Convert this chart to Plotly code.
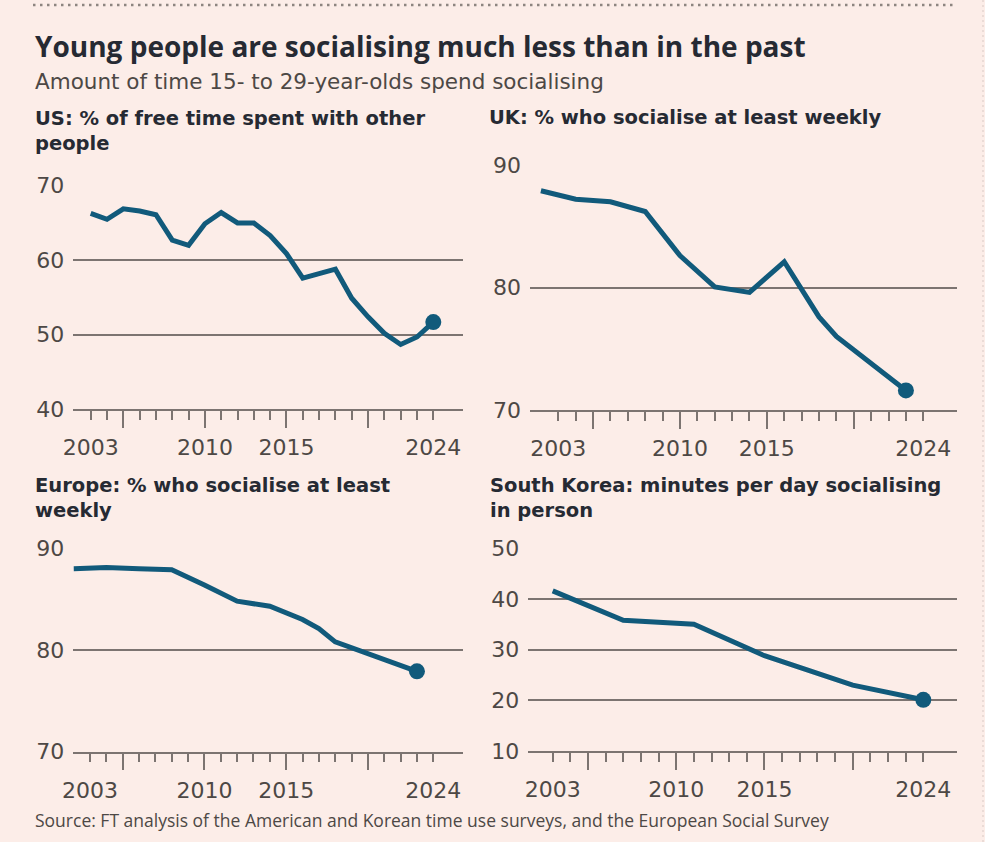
import plotly.graph_objects as go

# data
us_years = list(range(2003, 2025))
us_vals = [66.3, 65.5, 66.9, 66.6, 66.1, 62.7, 62.0, 64.9, 66.4, 65.0, 65.0,
           63.3, 60.9, 57.6, 58.2, 58.8, 54.9, 52.4, 50.2, 48.7, 49.7, 51.7]

uk_years = [2002, 2004, 2006, 2008, 2010, 2012, 2014, 2016, 2018, 2019, 2023]
uk_vals = [87.9, 87.2, 87.0, 86.2, 82.6, 80.05, 79.6, 82.1, 77.6, 76.0, 71.6]

eu_years = [2002, 2004, 2006, 2008, 2010, 2012, 2014, 2016, 2017, 2018, 2023]
eu_vals = [88.0, 88.1, 88.0, 87.9, 86.4, 84.8, 84.3, 83.0, 82.1, 80.8, 77.9]

kr_years = [2003, 2007, 2011, 2015, 2020, 2024]
kr_vals = [41.6, 35.8, 35.0, 28.8, 23.0, 20.1]

label_years = [2003, 2010, 2015, 2024]
long_tick_years = [2005, 2010, 2015, 2020]
minor_tick_years = list(range(2003, 2025))

title = "Young people are socialising much less than in the past"
subtitle = "Amount of time 15- to 29-year-olds spend socialising"
source = ("Source: FT analysis of the American and Korean time use surveys, "
          "and the European Social Survey")

W, H = 985, 842
BG = "#fcede8"
LINE = "#115a7b"
GRID = "#7c7471"
TXT = "#262a33"
TICK = "#4d4845"
HEAD = "Open Sans, sans-serif"
BODY = "DejaVu Sans, sans-serif"

# panel: title, years, values, y ticks, pixel box (left, right, x of 2003, x of 2024,
# y px of bottom grid, y px of top grid), title position
panels = [
    ("US: % of free time spent with other<br>people", us_years, us_vals, [40, 50, 60, 70],
     (73.3, 463.3, 90.7, 433.3, 409.3, 185.7), (33, 130.6)),
    ("UK: % who socialise at least weekly", uk_years, uk_vals, [70, 80, 90],
     (530, 956.7, 558.3, 923.3, 410, 165), (487, 117.3)),
    ("Europe: % who socialise at least<br>weekly", eu_years, eu_vals, [70, 80, 90],
     (73.3, 463.3, 90, 433.3, 751.7, 548.3), (33, 497.8)),
    ("South Korea: minutes per day socialising<br>in person", kr_years, kr_vals, [10, 20, 30, 40, 50],
     (528.3, 956.7, 552.7, 923.3, 751, 548.3), (488, 497.8)),
]

fig = go.Figure()
layout = {}
annotations = []

for i, (ptitle, xs, ys, yticks, box, tpos) in enumerate(panels):
    n = i + 1
    left, right, p03, p24, pbot, ptop = box
    per_year = (p24 - p03) / 21
    xr = [2003 - (p03 - left) / per_year, 2024 + (right - p24) / per_year]
    ymin, ymax = yticks[0], yticks[-1]
    per_unit = (pbot - ptop) / (ymax - ymin)
    pad = 1.0 / per_unit
    yr = [ymin, ymax + pad]
    top_px = ptop - pad * per_unit

    xa = "x" if n == 1 else f"x{n}"
    ya = "y" if n == 1 else f"y{n}"
    xkey = "xaxis" if n == 1 else f"xaxis{n}"
    ykey = "yaxis" if n == 1 else f"yaxis{n}"
    okey = f"xaxis{n + 4}"

    fig.add_trace(go.Scatter(x=xs, y=ys, mode="lines", xaxis=xa, yaxis=ya,
                             line=dict(color=LINE, width=5), cliponaxis=False,
                             hoverinfo="skip", showlegend=False))
    fig.add_trace(go.Scatter(x=[xs[-1]], y=[ys[-1]], mode="markers", xaxis=xa, yaxis=ya,
                             marker=dict(color=LINE, size=16), cliponaxis=False,
                             hoverinfo="skip", showlegend=False))
    # empty trace so the label axis is drawn
    fig.add_trace(go.Scatter(x=[], y=[], xaxis=f"x{n + 4}", yaxis=ya,
                             hoverinfo="skip", showlegend=False))

    layout[xkey] = dict(
        domain=[left / W, right / W], range=xr, anchor=ya, automargin=False,
        showgrid=False, zeroline=False, showline=True, linecolor=GRID, linewidth=1.5,
        tickmode="array", tickvals=long_tick_years, ticks="outside", ticklen=17,
        tickwidth=1.5, tickcolor=GRID, showticklabels=False,
        minor=dict(tickmode="array", tickvals=minor_tick_years, ticks="outside",
                   ticklen=9, tickwidth=1.5, tickcolor=GRID),
        fixedrange=True,
    )
    layout[okey] = dict(
        overlaying=xa, anchor=ya, range=xr, side="bottom", automargin=False,
        showgrid=False, zeroline=False, showline=False,
        tickmode="array", tickvals=label_years, ticks="",
        ticklabelstandoff=23, tickfont=dict(family=BODY, size=22, color=TICK),
        fixedrange=True,
    )
    layout[ykey] = dict(
        domain=[1 - pbot / H, 1 - top_px / H], range=yr, anchor=xa, automargin=False,
        showgrid=True, gridcolor=GRID, gridwidth=1.5, zeroline=False, showline=False,
        tickmode="array", tickvals=yticks, ticks="", ticklabelstandoff=8,
        tickfont=dict(family=BODY, size=22, color=TICK), fixedrange=True,
    )
    annotations.append(dict(
        text=f"<b>{ptitle}</b>", xref="paper", yref="paper",
        x=tpos[0] / W, y=1 - tpos[1] / H, xanchor="left", yanchor="middle",
        align="left", showarrow=False, font=dict(family=BODY, size=19.5, color=TXT)))

annotations += [
    dict(text=f"<b>{title}</b>", xref="paper", yref="paper", x=33 / W, y=1 - 45.5 / H,
         xanchor="left", yanchor="middle", showarrow=False,
         font=dict(family=HEAD, size=28, color=TXT)),
    dict(text=subtitle, xref="paper", yref="paper", x=33 / W, y=1 - 82 / H,
         xanchor="left", yanchor="middle", showarrow=False,
         font=dict(family=BODY, size=21.5, color="#4d4845")),
    dict(text=source, xref="paper", yref="paper", x=33 / W, y=1 - 820 / H,
         xanchor="left", yanchor="middle", showarrow=False,
         font=dict(family=HEAD, size=17.5, color="#4d4845")),
]

shapes = [
    dict(type="line", xref="paper", yref="paper", x0=33 / W, x1=955 / W,
         y0=1 - 5 / H, y1=1 - 5 / H, line=dict(color="#8d8580", width=2.5, dash="2.5px,4.5px")),
    dict(type="line", xref="paper", yref="paper", x0=983 / W, x1=983 / W,
         y0=0, y1=1, line=dict(color="#d9c9c4", width=1, dash="2px,3px")),
]

fig.update_layout(
    width=W, height=H, margin=dict(l=0, r=0, t=0, b=0, autoexpand=False),
    paper_bgcolor=BG, plot_bgcolor=BG,
    annotations=annotations, shapes=shapes, showlegend=False,
    **layout,
)

fig.write_html("out.html", config={"displayModeBar": False},
               post_script="document.body.style.margin='0';"
                           "document.body.style.background='" + BG + "';")
